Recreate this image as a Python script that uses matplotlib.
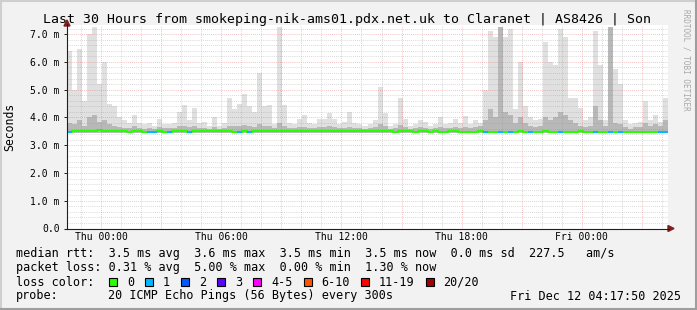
import numpy as np
import matplotlib.pyplot as plt
from matplotlib.patches import Rectangle, Polygon
from matplotlib.lines import Line2D

plt.rcParams['font.family'] = 'DejaVu Sans Mono'

W, H = 697, 310

# hours relative to Thu 00:00, one value per 15 minute bin
t_start = -1.7
bin_hours = 0.25

max_ms = [
    6.40, 5.00, 6.45, 4.60, 7.00, 7.25, 5.20, 6.00, 4.50, 4.40,
    4.00, 3.90, 3.80, 4.10, 3.80, 3.75, 3.80, 3.70, 3.95, 3.75,
    3.75, 3.80, 4.20, 4.45, 3.90, 4.35, 3.80, 3.85, 3.70, 4.00,
    3.70, 3.80, 4.70, 4.30, 4.50, 4.85, 4.40, 4.20, 5.60, 4.40,
    4.45, 3.75, 7.25, 4.45, 3.80, 3.75, 3.95, 4.10, 3.80, 3.75,
    3.95, 3.95, 4.15, 3.95, 3.75, 3.85, 4.20, 3.80, 3.75, 3.70,
    3.75, 3.90, 5.10, 4.15, 3.70, 3.75, 4.70, 3.95, 3.70, 3.75,
    3.90, 3.85, 3.70, 3.75, 4.00, 3.75, 3.80, 3.95, 3.80, 4.05,
    3.75, 3.90, 3.80, 5.00, 7.10, 6.90, 7.25, 6.90, 7.20, 4.30,
    6.00, 4.40, 4.00, 3.90, 3.95, 6.70, 6.00, 5.90, 7.20, 6.90,
    4.70, 4.70, 4.35, 3.90, 4.00, 7.10, 5.90, 3.90, 7.25, 5.75,
    5.20, 3.90, 3.75, 3.80, 3.85, 4.60, 3.90, 4.10, 3.85, 4.70,
]

inner_ms = [
    3.80, 3.75, 3.90, 3.70, 4.00, 4.10, 3.85, 3.90, 3.75, 3.70,
    3.65, 3.62, 3.62, 3.68, 3.62, 3.60, 3.62, 3.60, 3.65, 3.62,
    3.62, 3.62, 3.68, 3.70, 3.65, 3.68, 3.62, 3.62, 3.60, 3.65,
    3.60, 3.62, 3.70, 3.68, 3.70, 3.72, 3.68, 3.65, 3.75, 3.70,
    3.68, 3.62, 3.80, 3.70, 3.62, 3.62, 3.65, 3.65, 3.62, 3.62,
    3.65, 3.65, 3.68, 3.65, 3.62, 3.62, 3.66, 3.62, 3.62, 3.60,
    3.62, 3.65, 3.75, 3.68, 3.60, 3.62, 3.72, 3.65, 3.60, 3.62,
    3.65, 3.62, 3.60, 3.62, 3.65, 3.62, 3.62, 3.65, 3.62, 3.65,
    3.62, 3.65, 3.70, 3.90, 4.30, 4.00, 7.25, 4.20, 4.10, 3.80,
    4.00, 3.80, 3.70, 3.65, 3.70, 4.00, 3.90, 4.00, 4.20, 4.10,
    3.90, 3.80, 3.70, 3.65, 3.70, 4.40, 3.90, 3.70, 7.25, 3.80,
    3.75, 3.65, 3.60, 3.65, 3.65, 3.80, 3.70, 3.75, 3.70, 3.90,
]

median_ms = [
    3.49, 3.50, 3.51, 3.51, 3.50, 3.52, 3.53, 3.52, 3.51, 3.50,
    3.50, 3.50, 3.49, 3.50, 3.50, 3.49, 3.49, 3.49, 3.50, 3.49,
    3.49, 3.50, 3.51, 3.50, 3.49, 3.50, 3.51, 3.52, 3.51, 3.50,
    3.51, 3.50, 3.50, 3.47, 3.49, 3.50, 3.49, 3.51, 3.52, 3.51,
    3.52, 3.51, 3.52, 3.51, 3.50, 3.51, 3.50, 3.51, 3.50, 3.50,
    3.51, 3.50, 3.50, 3.51, 3.50, 3.50, 3.51, 3.50, 3.50, 3.50,
    3.50, 3.50, 3.51, 3.50, 3.50, 3.49, 3.50, 3.50, 3.50, 3.49,
    3.50, 3.50, 3.49, 3.50, 3.49, 3.49, 3.50, 3.50, 3.49, 3.48,
    3.48, 3.49, 3.50, 3.49, 3.49, 3.48, 3.49, 3.49, 3.48, 3.49,
    3.50, 3.49, 3.48, 3.49, 3.49, 3.50, 3.49, 3.48, 3.48, 3.49,
    3.49, 3.49, 3.50, 3.49, 3.49, 3.49, 3.48, 3.48, 3.48, 3.47,
    3.47, 3.48, 3.48, 3.48, 3.49, 3.49, 3.48, 3.48, 3.48, 3.47,
]

# lost pings (of 20) per bin
loss = [
    1, 0, 0, 0, 0, 0, 0, 0, 0, 0,
    0, 0, 0, 0, 0, 0, 1, 1, 0, 0,
    1, 0, 0, 0, 1, 0, 0, 0, 0, 0,
    0, 0, 0, 0, 1, 0, 1, 0, 0, 0,
    0, 0, 0, 0, 0, 0, 0, 0, 0, 0,
    0, 0, 0, 0, 0, 0, 0, 0, 0, 0,
    0, 0, 0, 0, 0, 0, 0, 0, 0, 0,
    0, 0, 0, 0, 0, 0, 0, 0, 0, 0,
    0, 0, 0, 1, 0, 0, 1, 0, 1, 0,
    0, 0, 1, 0, 0, 0, 0, 0, 1, 0,
    0, 0, 0, 0, 0, 1, 0, 0, 1, 0,
    1, 0, 0, 0, 0, 0, 0, 0, 1, 1,
]

smoke_floor_ms = 3.44

tick_hours = [0, 6, 12, 18, 24]
tick_labels = ['Thu 00:00', 'Thu 06:00', 'Thu 12:00', 'Thu 18:00', 'Fri 00:00']
y_ticks = [0, 1, 2, 3, 4, 5, 6, 7]
y_labels = ['0.0', '1.0 m', '2.0 m', '3.0 m', '4.0 m', '5.0 m', '6.0 m', '7.0 m']

loss_labels = ['0', '1', '2', '3', '4-5', '6-10', '11-19', '20/20']
loss_colors = ['#26ff00', '#00b8ff', '#0059ff', '#5e00ff', '#ff00ff',
               '#ff5500', '#ff0000', '#a10000']

title = 'Last 30 Hours from smokeping-nik-ams01.pdx.net.uk to Claranet | AS8426 | Son'
rtt_line = 'median rtt:  3.5 ms avg  3.6 ms max  3.5 ms min  3.5 ms now  0.0 ms sd  227.5   am/s'
loss_line = 'packet loss: 0.31 % avg  5.00 % max  0.00 % min  1.30 % now'
stamp = 'Fri Dec 12 04:17:50 2025'


def fx(px):
    return px / W


def fy(py):
    return 1 - py / H


fig = plt.figure(figsize=(W / 100, H / 100), dpi=100)
fig.patch.set_facecolor('#f2f2f2')

# 3D frame
fig.add_artist(Line2D([0, 1], [fy(1), fy(1)], color='#cfcfcf', lw=1.5))
fig.add_artist(Line2D([fx(1), fx(1)], [0, 1], color='#cfcfcf', lw=1.5))
fig.add_artist(Line2D([0, 1], [fy(H - 1), fy(H - 1)], color='#9e9e9e', lw=1.5))
fig.add_artist(Line2D([fx(W - 1), fx(W - 1)], [0, 1], color='#9e9e9e', lw=1.5))

top_px, bot_px, left_px, right_px = 25, 228.5, 67, 668
ax = fig.add_axes([fx(left_px), fy(bot_px), fx(right_px - left_px),
                   (bot_px - top_px) / H])
ax.set_facecolor('white')

n = len(max_ms)
edges = t_start + bin_hours * np.arange(n)
t_end = t_start + bin_hours * n

mx = np.array(max_ms)
inner = np.array(inner_ms)
med = np.array(median_ms)

ax.bar(edges, mx - smoke_floor_ms, bottom=smoke_floor_ms, width=bin_hours,
       align='edge', color='#e0e0e0', linewidth=0, zorder=2)
ax.bar(edges, inner - smoke_floor_ms, bottom=smoke_floor_ms, width=bin_hours,
       align='edge', color='#b8b8b8', linewidth=0, zorder=3)

ax.step(np.append(edges, t_end), np.append(med, med[-1]), where='post',
        color=loss_colors[0], lw=1.5, zorder=5)
for i in range(n):
    if loss[i] > 0:
        ax.hlines(med[i], edges[i], edges[i] + bin_hours,
                  color=loss_colors[loss[i]], lw=1.5, zorder=6)

ax.set_xlim(t_start, t_end)
ax.set_ylim(0, 7.33)

# dotted grid, red major / grey minor
dot = (0, (1, 1.5))
red = (0.87, 0.31, 0.31)
grey = (0.56, 0.56, 0.56)
for h in range(-1, 29):
    if h % 3 == 0:
        ax.axvline(h, color=red, alpha=0.45, lw=0.6, ls=dot, zorder=8)
    else:
        ax.axvline(h, color=grey, alpha=0.45, lw=0.6, ls=dot, zorder=8)
for k in range(1, 37):
    v = k * 0.2
    if k % 5 == 0:
        ax.axhline(v, color=red, alpha=0.45, lw=0.6, ls=dot, zorder=8)
    else:
        ax.axhline(v, color=grey, alpha=0.45, lw=0.6, ls=dot, zorder=8)

for s in ax.spines.values():
    s.set_visible(False)

ax.set_xticks(tick_hours, tick_labels, fontsize=7)
ax.set_yticks(y_ticks, y_labels, fontsize=7)
ax.tick_params(axis='x', length=0, pad=2.2)
ax.tick_params(axis='y', length=2, width=0.7, pad=3.2, color='#1f1f1f')

# axes with arrows
axis_col = '#1f1f1f'
arrow_col = '#801f1f'
fig.add_artist(Line2D([fx(left_px), fx(left_px)], [fy(bot_px), fy(24)],
                      color=axis_col, lw=0.8))
fig.add_artist(Line2D([fx(left_px - 2), fx(right_px + 1)], [fy(bot_px), fy(bot_px)],
                      color=axis_col, lw=0.8))
fig.add_artist(Polygon([[fx(left_px - 3), fy(26)], [fx(left_px + 3), fy(26)],
                        [fx(left_px), fy(20)]], closed=True, color=arrow_col,
                       transform=fig.transFigure))
fig.add_artist(Polygon([[fx(right_px), fy(bot_px - 3)], [fx(right_px), fy(bot_px + 3)],
                        [fx(right_px + 6), fy(bot_px)]], closed=True, color=arrow_col,
                       transform=fig.transFigure))

fig.text(fx(347), fy(19), title, fontsize=9.5, ha='center', va='center')
fig.text(fx(10), fy(127), 'Seconds', fontsize=8.3, rotation=90,
         ha='center', va='center')
fig.text(fx(686), fy(60), 'RRDTOOL / TOBI OETIKER', fontsize=5.5, rotation=270,
         ha='center', va='center', color='#a8a8a8')

# legend block
lg = 8.5
fig.text(fx(16), fy(254), rtt_line, fontsize=lg, va='center')
fig.text(fx(16), fy(268), loss_line, fontsize=lg, va='center')
fig.text(fx(16), fy(282), 'loss color:', fontsize=lg, va='center')
cw = 7.1
x = 109
for lab, col in zip(loss_labels, loss_colors):
    fig.add_artist(Rectangle((fx(x), fy(286)), fx(8), 8 / H, facecolor=col,
                             edgecolor='black', lw=0.8, transform=fig.transFigure))
    fig.text(fx(x + 18), fy(282), lab, fontsize=lg, va='center')
    x = x + 29 + len(lab) * cw
fig.text(fx(16), fy(296), 'probe:', fontsize=lg, va='center')
fig.text(fx(107.5), fy(296), '20 ICMP Echo Pings (56 Bytes) every 300s',
         fontsize=lg, va='center')
fig.text(fx(681), fy(296), stamp, fontsize=lg, va='center', ha='right')

fig.savefig('out.png', dpi=100, facecolor=fig.get_facecolor())
